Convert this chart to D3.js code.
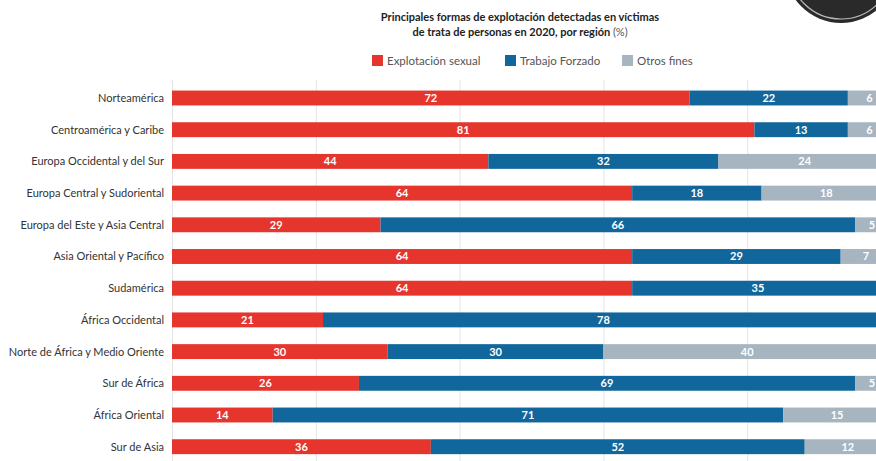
<!DOCTYPE html>
<meta charset="utf-8">

<!-- Load d3.js -->
<script src="https://d3js.org/d3.v7.min.js"></script>

<style type="text/css">
  html, body { margin: 0; padding: 0; background: #fff; overflow: hidden; }
  text { font-family: "Lato", "Open Sans", sans-serif; }
</style>

<div id="my_dataviz"></div>

<script>
// data (% of detected victims, 2020)
let regions = ["Norteamérica", "Centroamérica y Caribe", "Europa Occidental y del Sur",
  "Europa Central y Sudoriental", "Europa del Este y Asia Central", "Asia Oriental y Pacífico",
  "Sudamérica", "África Occidental", "Norte de África y Medio Oriente", "Sur de África",
  "África Oriental", "Sur de Asia"];
let sexual  = [72, 81, 44, 64, 29, 64, 64, 21, 30, 26, 14, 36];
let forzado = [22, 13, 32, 18, 66, 29, 35, 78, 30, 69, 71, 52];
let otros   = [ 6,  6, 24, 18,  5,  7,  1,  1, 40,  5, 15, 12];
let seriesNames = ["Explotación sexual", "Trabajo Forzado", "Otros fines"];
let colors = ["#e5352c", "#11679c", "#a6b5bf"];
let gridTicks = [0, 20, 40, 60, 80];

let W = 876, H = 461;

let svg = d3.select("#my_dataviz")
  .append("svg")
  .attr("width", W)
  .attr("height", H);

// scales
let x = d3.scaleLinear().domain([0, 100]).range([172, 891]);
let step = 31.7;
let y = d3.scaleBand()
  .domain(regions)
  .range([98 - step / 2, 98 - step / 2 + regions.length * step])
  .paddingInner(0.53)
  .paddingOuter(0.265);

// gridlines
svg.append("g")
  .attr("transform", "translate(0," + H + ")")
  .call(d3.axisBottom(x).tickValues(gridTicks).tickSize(-(H - 80)).tickFormat(""))
  .call(g => g.select(".domain").remove())
  .selectAll("line")
  .attr("stroke", "#e4e4e4")
  .attr("stroke-width", 1);

// stacked data
let table = regions.map((r, i) => ({region: r, s0: sexual[i], s1: forzado[i], s2: otros[i]}));
let stack = d3.stack().keys(["s0", "s1", "s2"])(table);

let layer = svg.selectAll("g.layer")
  .data(stack)
  .enter().append("g")
  .attr("class", "layer")
  .attr("fill", (d, i) => colors[i]);

layer.selectAll("rect")
  .data(d => d)
  .enter().append("rect")
  .attr("x", d => x(d[0]))
  .attr("y", d => y(d.data.region))
  .attr("width", d => x(d[1]) - x(d[0]))
  .attr("height", y.bandwidth());

// value labels (the picture is cropped on the right, so labels past the edge are not drawn)
let mid = d => x((d[0] + d[1]) / 2);
layer.selectAll("text")
  .data(d => d.filter(v => mid(v) < W))
  .enter().append("text")
  .attr("x", d => Math.min(mid(d), W - 4))
  .attr("y", d => y(d.data.region) + y.bandwidth() / 2)
  .attr("dy", "0.36em")
  .attr("text-anchor", "middle")
  .attr("fill", "#fff")
  .style("font-size", "11px")
  .style("font-weight", "bold")
  .text(d => d[1] - d[0]);

// category labels
svg.append("g")
  .selectAll("text")
  .data(regions)
  .enter().append("text")
  .attr("x", 164)
  .attr("y", d => y(d) + y.bandwidth() / 2)
  .attr("dy", "0.36em")
  .attr("text-anchor", "end")
  .attr("fill", "#333")
  .style("font-size", "11px")
  .text(d => d);

// title
let title = svg.append("text")
  .attr("x", 520)
  .attr("text-anchor", "middle")
  .attr("fill", "#222")
  .style("font-size", "11px")
  .style("font-weight", "bold");
title.append("tspan").attr("x", 520).attr("y", 21)
  .text("Principales formas de explotación detectadas en víctimas");
title.append("tspan").attr("x", 520).attr("y", 36)
  .text("de trata de personas en 2020, por región ");
title.append("tspan").style("font-weight", "normal").attr("fill", "#555").text("(%)");

// legend
let legendX = [372, 505, 622];
let legend = svg.selectAll("g.legend")
  .data(seriesNames)
  .enter().append("g")
  .attr("class", "legend")
  .attr("transform", (d, i) => "translate(" + legendX[i] + ",55)");
legend.append("rect")
  .attr("width", 11).attr("height", 11)
  .attr("fill", (d, i) => colors[i]);
legend.append("text")
  .attr("x", 15).attr("y", 5.5).attr("dy", "0.36em")
  .attr("fill", "#555")
  .style("font-size", "11.5px")
  .text(d => d);

// dark badge cut off at top right
svg.append("circle")
  .attr("cx", 841).attr("cy", -33).attr("r", 56)
  .attr("fill", "#2a2a2a");
svg.append("circle")
  .attr("cx", 841).attr("cy", -33).attr("r", 52)
  .attr("fill", "none").attr("stroke", "#bbb").attr("stroke-width", 1.2);
</script>
